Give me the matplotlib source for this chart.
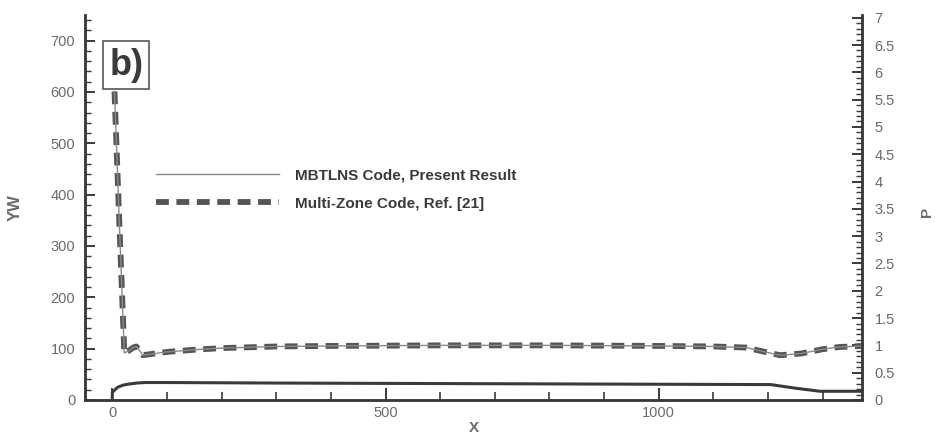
import matplotlib
matplotlib.use('Agg')
import matplotlib.pyplot as plt
from matplotlib.ticker import MultipleLocator

plt.rcParams['font.family'] = ['Liberation Sans', 'DejaVu Sans']

# wall coordinate YW along the surface
x_yw = [0, 0, 5, 10, 20, 30, 45, 60, 100, 300, 600, 900, 1205, 1250, 1295, 1372]
yw = [0, 15, 20, 25, 29, 31, 33, 34, 34, 33, 32, 31, 30, 23, 17, 17]

# surface pressure P, both codes
x_p = [4, 13, 22, 30, 38, 44, 50, 56, 70, 100, 150, 200, 300, 400, 600, 800,
       1000, 1100, 1160, 1190, 1222, 1260, 1300, 1330, 1372]
p_ref = [5.65, 3.2, 0.86, 0.90, 0.96, 0.98, 0.90, 0.82, 0.84, 0.88, 0.92, 0.95,
         0.98, 0.99, 1.0, 1.0, 0.99, 0.98, 0.96, 0.89, 0.82, 0.85, 0.93, 0.97, 0.99]
p_mbt = [5.65, 3.2, 0.86, 0.90, 0.96, 0.98, 0.90, 0.82, 0.84, 0.88, 0.92, 0.95,
         0.98, 0.99, 1.0, 1.0, 0.99, 0.98, 0.96, 0.89, 0.82, 0.85, 0.93, 0.97, 0.99]

lab_mbt = 'MBTLNS Code, Present Result'
lab_ref = 'Multi-Zone Code, Ref. [21]'

dark = '#3a3a3a'
grey = '#6a6a6a'

fig = plt.figure(figsize=(9.37, 4.36), dpi=100)
ax = fig.add_axes([0.0907, 0.0826, 0.8293, 0.883])
ax2 = ax.twinx()

ax.plot(x_yw, yw, color=dark, lw=2.2)
l_ref, = ax2.plot(x_p, p_ref, color='#555555', lw=4.2, dashes=(2.2, 1.3), label=lab_ref)
l_mbt, = ax2.plot(x_p, p_mbt, color='#8a8a8a', lw=1.0, label=lab_mbt)

ax.set_xlim(-50, 1372)
ax.set_ylim(0, 750)
ax2.set_ylim(0, 7.05)

for a in (ax, ax2):
    a.spines['top'].set_visible(False)
    for s in a.spines.values():
        s.set_color(dark)
        s.set_linewidth(1.8)

ax.xaxis.set_major_locator(MultipleLocator(500))
ax.xaxis.set_minor_locator(MultipleLocator(100))
ax.yaxis.set_major_locator(MultipleLocator(100))
ax.yaxis.set_minor_locator(MultipleLocator(20))
ax2.yaxis.set_major_locator(MultipleLocator(0.5))
ax2.yaxis.set_minor_locator(MultipleLocator(0.1))

ax.tick_params(which='both', direction='in', colors=dark, labelcolor=grey, labelsize=10.5)
ax.tick_params(axis='x', which='major', length=9, width=1.4, pad=4)
ax.tick_params(axis='x', which='minor', length=6, width=1.2)
ax.tick_params(axis='y', which='major', length=7, width=1.4, pad=7)
ax.tick_params(axis='y', which='minor', length=4, width=1.0)
ax2.tick_params(which='both', direction='in', colors=dark, labelcolor=grey, labelsize=10.5)
ax2.tick_params(which='major', length=7, width=1.4, pad=9)
ax2.tick_params(which='minor', length=4, width=1.0)

ax2.set_yticklabels([('%g' % v) for v in ax2.get_yticks()])

ax.set_xlabel('X', fontsize=11, fontweight='bold', color=grey, labelpad=1)
fig.text(15 / 937, 1 - 208 / 436, 'YW', rotation=90, fontsize=12, fontweight='bold',
         color=grey, ha='center', va='center')
fig.text(927 / 937, 1 - 212 / 436, 'P', rotation=90, fontsize=11, fontweight='bold',
         color=grey, ha='center', va='center')

ax.text(0.053, 0.87, 'b)', transform=ax.transAxes, fontsize=26,
        fontweight='bold', color=dark, ha='center', va='center',
        bbox=dict(boxstyle='square,pad=0.17', fc='white', ec='#555555', lw=1.2))

ax2.legend(handles=[l_mbt, l_ref], loc='upper left', bbox_to_anchor=(0.082, 0.622),
           frameon=False, handlelength=8.0, handletextpad=1.1, labelspacing=0.95,
           borderpad=0, prop={'weight': 'bold', 'size': 11}, labelcolor='#3a3a3a')

fig.savefig('out.png', dpi=100)
